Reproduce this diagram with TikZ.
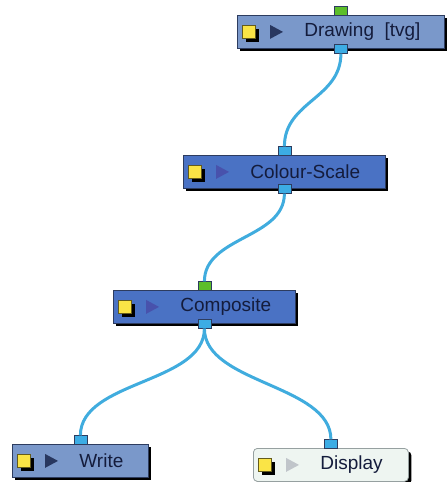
\documentclass[tikz,border=0pt]{standalone}
\usepackage{fontspec}
\setmainfont{Liberation Sans}
\usetikzlibrary{shadows}

\definecolor{lightfill}{RGB}{122,152,202}
\definecolor{darkfill}{RGB}{74,114,196}
\definecolor{palefill}{RGB}{238,245,241}
\definecolor{boxline}{RGB}{45,60,95}
\definecolor{paleline}{RGB}{150,160,160}
\definecolor{wire}{RGB}{64,172,222}
\definecolor{portblue}{RGB}{60,172,228}
\definecolor{portgreen}{RGB}{92,190,42}
\definecolor{labeltext}{RGB}{20,28,60}
\definecolor{tridark}{RGB}{40,55,95}
\definecolor{trimid}{RGB}{72,82,172}
\definecolor{trilight}{RGB}{192,197,202}
\definecolor{iconyellow}{RGB}{250,228,70}

\begin{document}
\begin{tikzpicture}[x=1pt, y=-1pt, thick,
    nodebox/.style={anchor=north west, minimum height=33pt, inner sep=0pt,
        line width=0.8pt,
        drop shadow={shadow xshift=3pt, shadow yshift=-3pt, fill=black, opacity=1}},
    lbl/.style={anchor=west, inner sep=0pt, text=labeltext,
        font=\fontsize{19}{22}\selectfont},
    port/.style={draw=boxline, line width=0.6pt, minimum width=13pt,
        minimum height=9pt, inner sep=0pt},
    link/.style={wire, line width=3pt}]
    \useasboundingbox (0,0) rectangle (447,482);

    % node boxes: name/x/y/width/fill/line/corner/triangle/text
    \foreach \n/\x/\y/\w/\f/\l/\r/\tc/\t in {
        drawing/237/15/207/lightfill/boxline/0pt/tridark/{Drawing\ \ [tvg]},
        colour/183/155/202/darkfill/boxline/0pt/trimid/{Colour-Scale},
        composite/113/290/182/darkfill/boxline/0pt/trimid/{Composite},
        write/12/444/136/lightfill/boxline/0pt/tridark/{Write},
        display/253/448/155/palefill/paleline/4pt/trilight/{Display}} {
        \node[nodebox, minimum width=\w pt, fill=\f, draw=\l, rounded corners=\r]
            (\n) at (\x,\y) {};
        % yellow icon with its shadow
        \fill[black] ([shift={(8.5,-3)}]\n.west) rectangle ++(13,13);
        \fill[iconyellow, draw=black!60!iconyellow, line width=0.4pt]
            ([shift={(5,-6.5)}]\n.west) rectangle ++(13,13);
        % play triangle
        \fill[\tc] ([shift={(33,-7)}]\n.west) -- ++(0,14) -- ++(13,-7) -- cycle;
        \node[lbl] (\n-lbl) at ([xshift=67pt]\n.west) {\t};
    }

    % ports
    \node[port, fill=portgreen, anchor=south] (drawing-in) at ([yshift=-1pt]drawing.north) {};
    \node[port, fill=portblue] (drawing-out) at (drawing.south) {};
    \node[port, fill=portblue, anchor=south] (colour-in) at ([yshift=-1pt]colour.north) {};
    \node[port, fill=portblue] (colour-out) at (colour.south) {};
    \node[port, fill=portgreen, anchor=south] (composite-in) at ([yshift=-1pt]composite.north) {};
    \node[port, fill=portblue] (composite-out) at (composite.south) {};
    \node[port, fill=portblue, anchor=south] (write-in) at ([yshift=-1pt]write.north) {};
    \node[port, fill=portblue, anchor=south] (display-in) at ([yshift=-1pt]display.north) {};

    % wires
    \draw[link] (drawing-out.south) .. controls +(0,45) and +(0,-45) .. (colour-in.north);
    \draw[link] (colour-out.south) .. controls +(0,45) and +(0,-45) .. (composite-in.north);
    \draw[link] (composite-out.south) .. controls +(0,55) and +(0,-55) .. (write-in.north);
    \draw[link] (composite-out.south) .. controls +(0,55) and +(0,-55) .. (display-in.north);
\end{tikzpicture}
\end{document}
